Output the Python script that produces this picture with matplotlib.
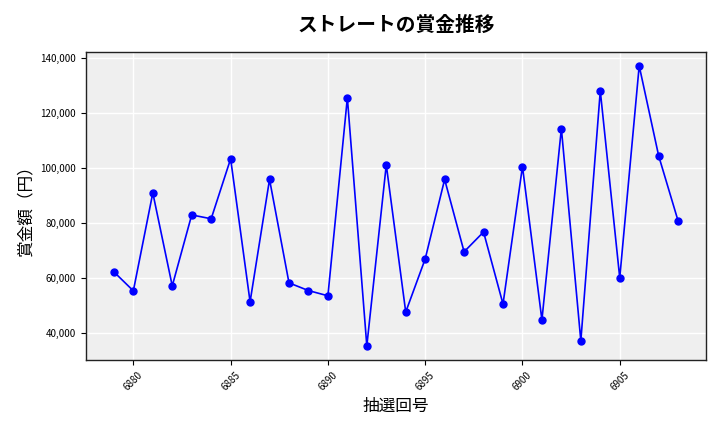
import matplotlib
matplotlib.use("Agg")
import matplotlib.pyplot as plt
from matplotlib.ticker import FuncFormatter

plt.rcParams['font.family'] = ['Noto Sans CJK JP', 'DejaVu Sans']

draws = list(range(6879, 6909))
prizes = [62200, 55300, 90900, 57100, 82900, 81500, 103300, 51300, 95800, 58200,
          55400, 53500, 125500, 35300, 101100, 47600, 66900, 95800, 69500, 76700,
          50500, 100500, 44700, 114300, 37100, 128000, 60000, 137100, 104400, 80700]

fig = plt.figure(figsize=(7.2, 4.32), dpi=100)
ax = fig.add_axes([0.119, 0.167, 0.862, 0.713])
ax.set_facecolor('#EFEFEF')
ax.grid(True, color='white', linewidth=1)
ax.set_axisbelow(True)
ax.plot(draws, prizes, color='blue', marker='o', markersize=5, linewidth=1.2)
for s in ax.spines.values():
    s.set_color('#222222')
    s.set_linewidth(1)
ax.yaxis.set_major_formatter(FuncFormatter(lambda v, p: f"{int(v):,}"))
ax.tick_params(axis='both', labelsize=7)
plt.setp(ax.get_xticklabels(), rotation=45)
ax.set_title('ストレートの賞金推移', fontsize=14.2, fontweight='bold', pad=15)
ax.set_xlabel('抽選回号', fontsize=12)
ax.set_ylabel('賞金額（円）', fontsize=12)
fig.savefig('out.png', dpi=100)
